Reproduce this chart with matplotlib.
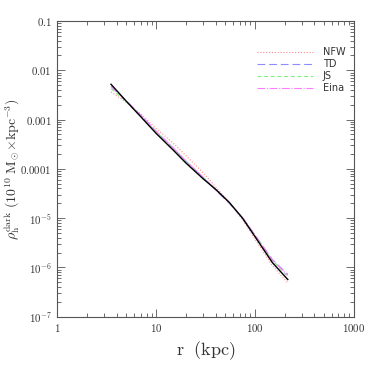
import numpy as np
import matplotlib
matplotlib.use('Agg')
import matplotlib.pyplot as plt
from matplotlib.ticker import FixedLocator, FixedFormatter, LogLocator, NullFormatter

plt.rcParams['mathtext.fontset'] = 'cm'

# ── data ──────────────────────────────────────────────────────────────────
r_kpc = [3.5, 5, 7, 10, 15, 20, 30, 40, 55, 75, 100, 150, 215]

log_rho_data = [-2.284, -2.629, -2.943, -3.28, -3.625, -3.88, -4.203,
                -4.414, -4.68, -5.002, -5.373, -5.90, -6.245]
log_rho_nfw  = [-2.44, -2.65, -2.89, -3.18, -3.485, -3.73, -4.083,
                -4.364, -4.68, -5.032, -5.423, -5.96, -6.314]
log_rho_td   = [-2.325, -2.62, -2.915, -3.24, -3.585, -3.845, -4.18,
                -4.43, -4.70, -4.99, -5.34, -5.84, -6.14]
log_rho_js   = [-2.371, -2.64, -2.93, -3.25, -3.595, -3.85, -4.18,
                -4.415, -4.685, -4.995, -5.35, -5.855, -6.18]
log_rho_eina = [-2.33, -2.62, -2.91, -3.235, -3.58, -3.835, -4.17,
                -4.42, -4.69, -4.99, -5.345, -5.845, -6.16]

models = [
    ('NFW',  log_rho_nfw,  '#ff8a8a', (0, (1, 1.6))),
    ('TD',   log_rho_td,   '#8c8cff', (0, (7, 3.5))),
    ('JS',   log_rho_js,   '#7cf07c', (0, (3.5, 2.5))),
    ('Eina', log_rho_eina, '#ff7cff', (0, (7, 1.5, 1, 1.5))),
]

x_ticks = [1, 10, 100, 1000]
x_labels = ['1', '10', '100', '1000']
y_ticks = [1e-7, 1e-6, 1e-5, 1e-4, 1e-3, 1e-2, 1e-1]
y_labels = [r'$10^{-7}$', r'$10^{-6}$', r'$10^{-5}$',
            r'$0.0001$', r'$0.001$', r'$0.01$', r'$0.1$']

# ── plot ──────────────────────────────────────────────────────────────────
fig = plt.figure(figsize=(3.74, 3.74), dpi=100)
ax = fig.add_axes([0.153, 0.153, 0.793, 0.791])

frame_col = '#555555'

for name, vals, col, ls in models:
    ax.plot(r_kpc, 10 ** np.array(vals), color=col, linestyle=ls,
            linewidth=0.8, label=name)
ax.plot(r_kpc, 10 ** np.array(log_rho_data), color='black', linewidth=1.0)

ax.set_xscale('log')
ax.set_yscale('log')
ax.set_xlim(1, 1000)
ax.set_ylim(1e-7, 0.1)

ax.xaxis.set_major_locator(FixedLocator(x_ticks))
ax.xaxis.set_major_formatter(FixedFormatter([r'$%s$' % s for s in x_labels]))
ax.yaxis.set_major_locator(FixedLocator(y_ticks))
ax.yaxis.set_major_formatter(FixedFormatter(y_labels))
for axis in (ax.xaxis, ax.yaxis):
    axis.set_minor_locator(LogLocator(base=10, subs=np.arange(2, 10), numticks=20))
    axis.set_minor_formatter(NullFormatter())

ax.tick_params(which='both', direction='in', top=True, right=True,
               color=frame_col, labelcolor='#333333', labelsize=7.8, width=0.6)
ax.tick_params(which='major', length=6, pad=4)
ax.tick_params(which='minor', length=3)
for sp in ax.spines.values():
    sp.set_color(frame_col)
    sp.set_linewidth(0.8)

ax.set_xlabel(r'$\mathrm{r\ \ (kpc)}$', fontsize=13, color='#333333')
ax.xaxis.set_label_coords(0.5, -0.075)
ax.set_ylabel(r'$\rho_{\mathrm{h}}^{\mathrm{dark}}\ (10^{10}\ \mathrm{M}_{\odot}'
              r'\!\times\!\mathrm{kpc}^{-3})$', fontsize=10, color='#333333')
ax.yaxis.set_label_coords(-0.12, 0.5)

leg = ax.legend(loc='upper left', bbox_to_anchor=(0.66, 0.925), frameon=False,
                fontsize=7, handlelength=5.8, handletextpad=1.0,
                labelspacing=0.22, borderaxespad=0.0)
for t in leg.get_texts():
    t.set_color('#333333')

fig.savefig('out.png', dpi=100)
